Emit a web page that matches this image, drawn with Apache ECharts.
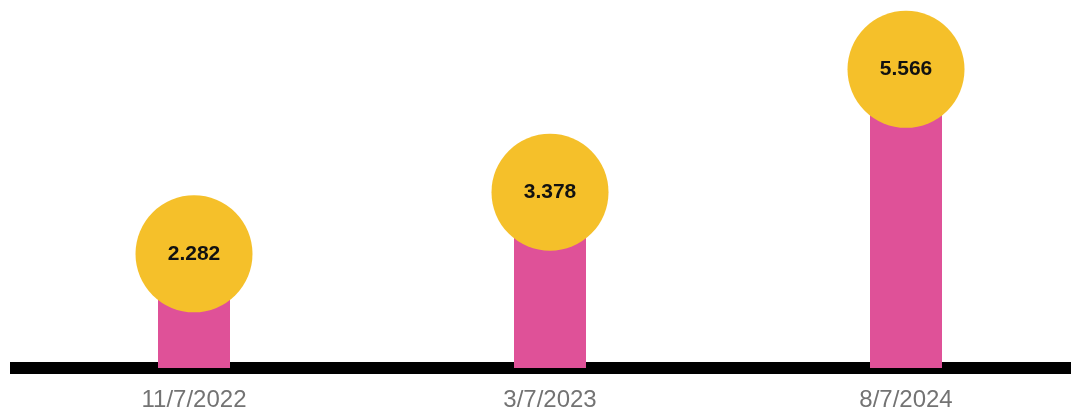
<!DOCTYPE html>
<html>
<head>
<meta charset="utf-8">
<style>
  html, body { margin: 0; padding: 0; background: #ffffff; }
  #chart { width: 1071px; height: 407px; }
</style>
<script src="https://cdn.jsdelivr.net/npm/echarts@6/dist/echarts.min.js"></script>
</head>
<body>
<div id="chart"></div>
<script>
// Dates and recorded values
const categories = ['11/7/2022', '3/7/2023', '8/7/2024'];
const values = [2.282, 3.378, 5.566];

const chart = echarts.init(document.getElementById('chart'), null, { renderer: 'canvas' });

const option = {
  animation: false,
  backgroundColor: '#ffffff',
  grid: [
    // plotting area for the stems and bubbles (slightly wider than the canvas)
    { left: 16, top: 0, right: -13, bottom: 39, containLabel: false, outerBoundsMode: 'none' },
    // full-width baseline
    { left: 10, top: 0, right: 0, bottom: 39, containLabel: false, outerBoundsMode: 'none' }
  ],
  xAxis: [
    {
      type: 'category',
      gridIndex: 0,
      data: categories,
      axisLine: { show: false },
      axisTick: { show: false },
      axisLabel: {
        margin: 20,
        fontFamily: 'Liberation Sans, Arial, sans-serif',
        fontSize: 24,
        color: '#737373'
      }
    },
    {
      type: 'category',
      gridIndex: 1,
      data: [''],
      axisLine: { show: true, lineStyle: { color: '#000000', width: 12, cap: 'butt' } },
      axisTick: { show: false },
      axisLabel: { show: false }
    }
  ],
  yAxis: [
    {
      type: 'value',
      gridIndex: 0,
      min: 0.25,
      max: 6.8,
      show: false,
      splitLine: { show: false }
    },
    {
      type: 'value',
      gridIndex: 1,
      show: false,
      splitLine: { show: false }
    }
  ],
  series: [
    {
      name: 'stem',
      type: 'bar',
      xAxisIndex: 0,
      yAxisIndex: 0,
      data: values,
      barWidth: 72,
      clip: true,
      itemStyle: { color: '#DF5198' },
      z: 1
    },
    {
      name: 'bubble',
      type: 'scatter',
      xAxisIndex: 0,
      yAxisIndex: 0,
      data: values,
      symbol: 'circle',
      symbolSize: 117,
      itemStyle: { color: '#F5C02A', opacity: 1 },
      label: {
        show: true,
        position: 'inside',
        formatter: p => p.value.toFixed(3),
        fontFamily: 'Liberation Sans, Arial, sans-serif',
        fontWeight: 'bold',
        fontSize: 21,
        color: '#111111'
      },
      z: 2
    }
  ]
};

chart.setOption(option);
</script>
</body>
</html>
